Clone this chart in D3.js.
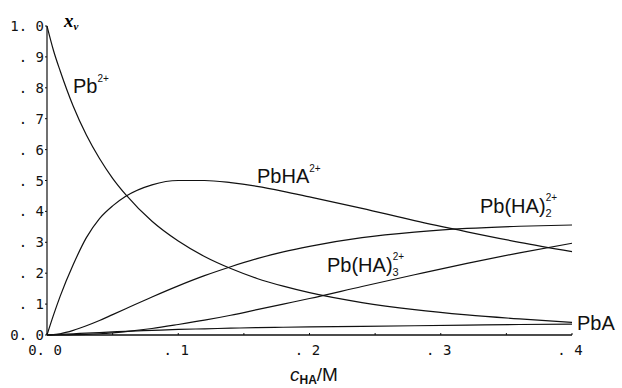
<!DOCTYPE html>
<html>
<head>
<meta charset="utf-8">
<script src="https://cdn.jsdelivr.net/npm/d3@7"></script>
<style>
  body { margin: 0; background: #fff; }
  .tick-label { font-family: "DejaVu Sans Mono", monospace; font-size: 14px; fill: #111; }
  .curve-label { font-family: "Liberation Sans", Arial, sans-serif; font-size: 20px; fill: #111; }
</style>
</head>
<body>
<div id="chart-space"></div>
<script>
// concentration of HA (M)
const conc = [0, 0.005, 0.01, 0.02, 0.03, 0.04, 0.05, 0.06, 0.08, 0.10, 0.12, 0.14, 0.16, 0.18, 0.20, 0.24, 0.28, 0.32, 0.36, 0.40]

// mole fraction of each species
const pb     = [1.0, 0.92, 0.855, 0.74, 0.647, 0.571, 0.507, 0.454, 0.368, 0.304, 0.254, 0.215, 0.183, 0.158, 0.137, 0.105, 0.082, 0.065, 0.052, 0.041]
const pbHA   = [0, 0.065, 0.125, 0.228, 0.315, 0.377, 0.418, 0.449, 0.486, 0.5, 0.5, 0.493, 0.481, 0.465, 0.447, 0.41, 0.37, 0.334, 0.30, 0.27]
const pbHA2  = [0, 0.001, 0.004, 0.015, 0.03, 0.047, 0.066, 0.085, 0.123, 0.159, 0.192, 0.221, 0.247, 0.269, 0.287, 0.315, 0.333, 0.345, 0.352, 0.356]
const pbHA3  = [0, 0, 0, 0.001, 0.002, 0.004, 0.007, 0.011, 0.021, 0.034, 0.048, 0.064, 0.082, 0.1, 0.118, 0.157, 0.195, 0.232, 0.266, 0.297]
const pbA    = [0, 0.001, 0.002, 0.004, 0.006, 0.008, 0.01, 0.012, 0.015, 0.018, 0.02, 0.022, 0.024, 0.025, 0.026, 0.028, 0.03, 0.032, 0.034, 0.035]

const xTicks = [0, 0.1, 0.2, 0.3, 0.4]
const xTickLabels = ['0. 0', '. 1', '. 2', '. 3', '. 4']
const yTicks = [0, 0.1, 0.2, 0.3, 0.4, 0.5, 0.6, 0.7, 0.8, 0.9, 1.0]
const yTickLabels = ['0. 0', '. 1', '. 2', '. 3', '. 4', '. 5', '. 6', '. 7', '. 8', '. 9', '1. 0']

const w = 622
const h = 388

const xScale = d3.scaleLinear().domain([0, 0.4]).range([47, 572])
const yScale = d3.scaleLinear().domain([0, 1]).range([335, 26])

const svg = d3.select('#chart-space')
  .append('svg')
  .attr('width', w)
  .attr('height', h)

// axes
svg.append('line')
  .attr('x1', xScale(0)).attr('x2', xScale(0))
  .attr('y1', yScale(0)).attr('y2', yScale(1))
  .attr('stroke', '#111').attr('stroke-width', 1.2)

svg.append('line')
  .attr('x1', xScale(0)).attr('x2', xScale(0.4))
  .attr('y1', yScale(0)).attr('y2', yScale(0))
  .attr('stroke', '#111').attr('stroke-width', 1.6)

svg.selectAll('.ytick')
  .data(yTicks)
  .enter()
  .append('line')
  .attr('class', 'ytick')
  .attr('x1', xScale(0) - 2).attr('x2', xScale(0))
  .attr('y1', d => yScale(d)).attr('y2', d => yScale(d))
  .attr('stroke', '#111')

svg.selectAll('.ylabel')
  .data(yTicks)
  .enter()
  .append('text')
  .attr('class', 'tick-label')
  .attr('x', 44)
  .attr('y', d => yScale(d) + 5)
  .attr('text-anchor', 'end')
  .text((d, i) => yTickLabels[i])

svg.selectAll('.xtick')
  .data(d3.range(0, 0.401, 0.05))
  .enter()
  .append('line')
  .attr('x1', d => xScale(d)).attr('x2', d => xScale(d))
  .attr('y1', yScale(0)).attr('y2', yScale(0) - 2)
  .attr('stroke', '#111')

svg.selectAll('.xlabel')
  .data(xTicks)
  .enter()
  .append('text')
  .attr('class', 'tick-label')
  .attr('x', d => xScale(d) - 2)
  .attr('y', 355)
  .attr('text-anchor', 'middle')
  .text((d, i) => xTickLabels[i])

// curves
const series = [pb, pbHA, pbHA2, pbHA3, pbA]
const line = d3.line()
  .x((d, i) => xScale(conc[i]))
  .y(d => yScale(d))
  .curve(d3.curveMonotoneX)

svg.selectAll('.curve')
  .data(series)
  .enter()
  .append('path')
  .attr('class', 'curve')
  .attr('d', d => line(d))
  .attr('fill', 'none')
  .attr('stroke', '#111')
  .attr('stroke-width', 1.2)

// axis titles
const yTitle = svg.append('text')
  .attr('x', 64).attr('y', 27)
  .style('font-family', '"Liberation Serif", serif')
  .style('font-style', 'italic')
  .style('font-weight', 'bold')
  .style('font-size', '19px')
yTitle.append('tspan').text('x')
yTitle.append('tspan').attr('dy', 3).style('font-size', '11px').text('v')

const xTitle = svg.append('text')
  .attr('x', 290).attr('y', 381)
  .style('font-family', '"Liberation Sans", Arial, sans-serif')
  .style('font-size', '19px')
  .attr('fill', '#111')
xTitle.append('tspan').style('font-style', 'italic').text('c')
xTitle.append('tspan').attr('dy', 3).style('font-size', '12px').style('font-weight', 'bold').text('HA')
xTitle.append('tspan').attr('dy', -3).text('/M')

// species labels
function species(x, y, base, sub, sup) {
  const t = svg.append('text').attr('class', 'curve-label').attr('x', x).attr('y', y)
  t.append('tspan').text(base)
  if (sub) {
    t.append('tspan').attr('dy', 4).style('font-size', '11px').text(sub)
    t.append('tspan').attr('dx', -6).attr('dy', -16).style('font-size', '10px').text(sup)
  } else if (sup) {
    t.append('tspan').attr('dy', -11).style('font-size', '10px').text(sup)
  }
}

species(73, 93, 'Pb', null, '2+')
species(257, 183, 'PbHA', null, '2+')
species(480, 213, 'Pb(HA)', '2', '2+')
species(327, 272, 'Pb(HA)', '3', '2+')
species(577, 330, 'PbA', null, null)
</script>
</body>
</html>
